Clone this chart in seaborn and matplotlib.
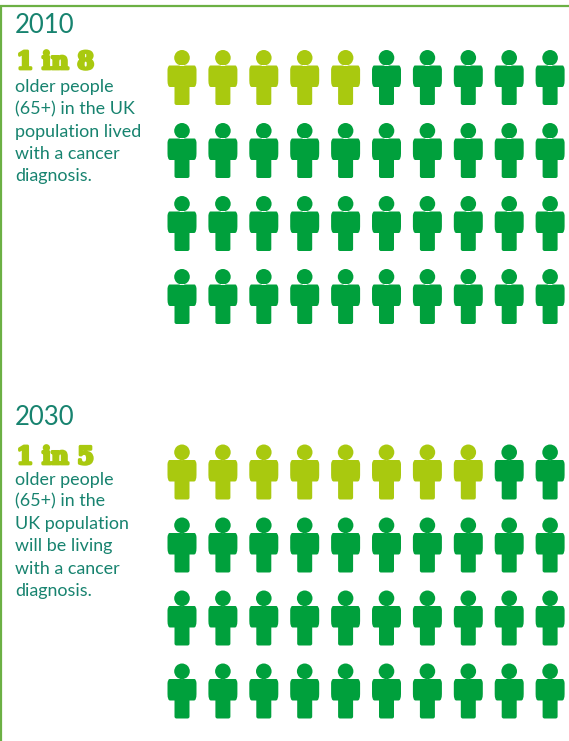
import numpy as np
import pandas as pd
import seaborn as sns
import matplotlib
matplotlib.use("Agg")
import matplotlib.pyplot as plt
import matplotlib.patheffects as pe
from matplotlib.path import Path

# Figures per year
years = ["2010", "2030"]
headlines = ["1 in 8", "1 in 5"]
affected_per_40 = [5, 8]
captions = [
    ["older people", "(65+) in the UK", "population lived", "with a cancer", "diagnosis."],
    ["older people", "(65+) in the", "UK population", "will be living", "with a cancer", "diagnosis."],
]
n_columns = 10
n_rows = 4

LIME = "#a9c90f"
GREEN = "#00a03c"
TEAL = "#17836f"
FRAME = "#6cb044"


def person_marker():
    """Head and torso glyph, centred on its own bounding box."""
    head = Path.unit_circle()
    head = Path(head.vertices * 7.8 + np.array([0.0, 19.7]), head.codes)
    outline = [
        (-12.5, 12.0), (12.5, 12.0), (14.0, 12.0), (14.5, 8.0), (14.5, -3.0),
        (14.5, -9.5), (12.0, -9.5), (12.0, -9.5), (7.5, -9.5), (7.5, -25.5),
        (7.5, -27.5), (5.5, -27.5), (-5.5, -27.5), (-7.5, -27.5), (-7.5, -25.5),
        (-7.5, -9.5), (-12.0, -9.5), (-14.5, -9.5), (-14.5, -3.0), (-14.5, 8.0),
        (-14.0, 12.0), (-12.5, 12.0), (-12.5, 12.0),
    ]
    codes = [Path.MOVETO, Path.LINETO, Path.CURVE3, Path.CURVE3, Path.LINETO,
             Path.CURVE3, Path.CURVE3, Path.LINETO, Path.LINETO, Path.LINETO,
             Path.CURVE3, Path.CURVE3, Path.LINETO, Path.CURVE3, Path.CURVE3,
             Path.LINETO, Path.LINETO, Path.CURVE3, Path.CURVE3, Path.LINETO,
             Path.CURVE3, Path.CURVE3, Path.CLOSEPOLY]
    return Path.make_compound_path(head, Path(outline, codes))


# One row per person in the two pictograms
records = []
for y_index, (year, affected) in enumerate(zip(years, affected_per_40)):
    for i in range(n_columns * n_rows):
        row, col = divmod(i, n_columns)
        records.append({
            "year": year,
            "x": 182 + col * 40.9,
            "y": 77.5 + y_index * 394.5 + row * 73,
            "status": "diagnosed" if i < affected else "other",
        })
people = pd.DataFrame(records)

sns.set_theme(style="white")
plt.rcParams["font.family"] = ["Lato", "DejaVu Sans"]

fig = plt.figure(figsize=(5.69, 7.41), dpi=100)
ax = fig.add_axes([0, 0, 1, 1])

sns.scatterplot(
    data=people, x="x", y="y", hue="status",
    palette={"diagnosed": LIME, "other": GREEN},
    marker=person_marker(), s=(55 * 0.72) ** 2, linewidth=0,
    legend=False, ax=ax,
)
ax.set_xlim(0, 569)
ax.set_ylim(741, 0)
ax.axis("off")

# Frame on the top and left edges
ax.plot([1.5, 1.5, 569], [741, 5.5, 5.5], color=FRAME, lw=1.6, solid_joinstyle="miter")

# Year heading, headline and caption blocks
year_baselines = [33, 425]
headline_baselines = [69, 464]
caption_baselines = [92, 484.5]
for i, (year, headline, caption) in enumerate(zip(years, headlines, captions)):
    ax.text(15, year_baselines[i], year, fontsize=18.5, color=TEAL, family="Lato")
    ax.text(16.5, headline_baselines[i], headline, fontsize=17.5, color=LIME,
            family="DejaVu Serif", fontweight="bold",
            path_effects=[pe.withStroke(linewidth=2.0, foreground=LIME)])
    for k, line in enumerate(caption):
        ax.text(15, caption_baselines[i] + k * 22.25, line, fontsize=12.9, color=TEAL, family="Lato")

fig.savefig("out.png", dpi=100, facecolor="white")
